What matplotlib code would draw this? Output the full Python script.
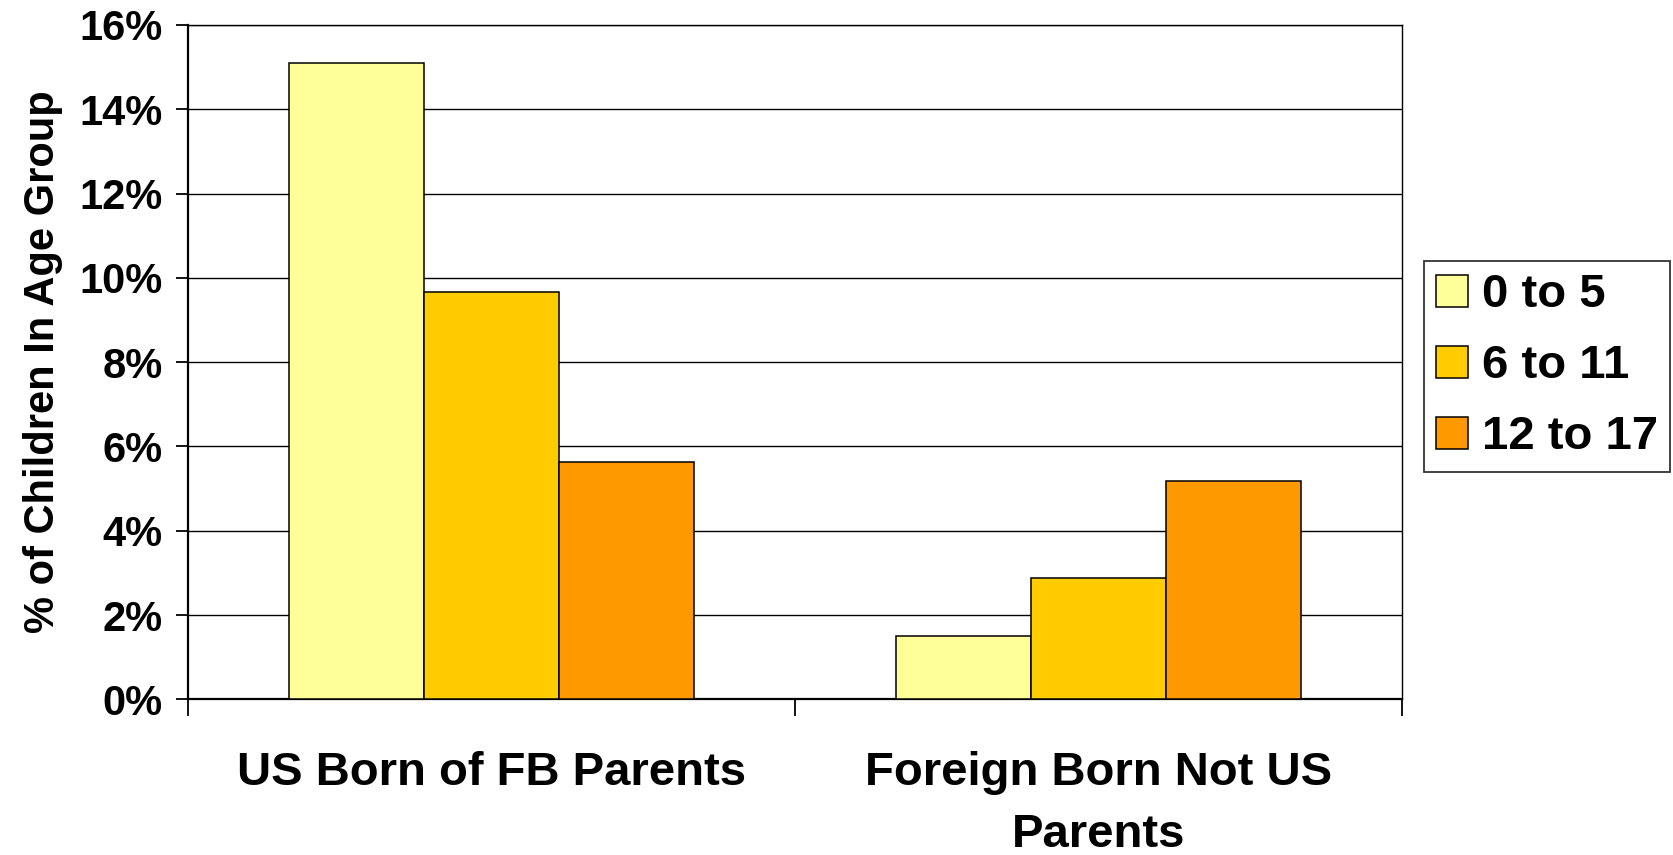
import numpy as np
import matplotlib
matplotlib.use("Agg")
import matplotlib.pyplot as plt
from matplotlib.ticker import FixedLocator, FuncFormatter

plt.rcParams["font.family"] = ["Liberation Sans", "DejaVu Sans"]
plt.rcParams["font.weight"] = "bold"

# data
categories = ["US Born of FB Parents", "Foreign Born Not US\nParents"]
age_groups = ["0 to 5", "6 to 11", "12 to 17"]
age_0_5 = [15.1, 1.51]
age_6_11 = [9.66, 2.89]
age_12_17 = [5.63, 5.19]
colors = ["#FFFF99", "#FFCC00", "#FF9900"]

fig = plt.figure(figsize=(16.74, 8.55), dpi=100)
ax = fig.add_axes([0.1125, 0.1821, 0.7252, 0.7887])

x = np.arange(len(categories))
width = 0.2226
series = [age_0_5, age_6_11, age_12_17]
for i, vals in enumerate(series):
    ax.bar(x + (i - 1) * width, vals, width, color=colors[i], edgecolor="black",
           linewidth=1.1, label=age_groups[i], zorder=3)

ax.set_xlim(-0.5, 1.5)
ax.set_ylim(0, 16)
ax.set_yticks(np.arange(0, 17, 2))
ax.yaxis.set_major_formatter(FuncFormatter(lambda v, p: "%d%%" % v))
ax.yaxis.grid(True, color="black", linewidth=1.0, zorder=0)

# category boundaries as major ticks, names on minor ticks
ax.xaxis.set_major_locator(FixedLocator([-0.5, 0.5, 1.5]))
ax.xaxis.set_major_formatter(FuncFormatter(lambda v, p: ""))
ax.xaxis.set_minor_locator(FixedLocator(x))
ax.set_xticklabels(categories, minor=True, fontsize=34, fontweight="bold",
                   linespacing=1.55)
ax.tick_params(axis="x", which="minor", length=0, pad=37)
ax.tick_params(axis="x", which="major", length=12, width=1.3, direction="out")
ax.tick_params(axis="y", length=8.6, width=1.3, pad=10, labelsize=30)

for s in ["top", "right"]:
    ax.spines[s].set_linewidth(1.0)
for s in ["left", "bottom"]:
    ax.spines[s].set_linewidth(1.6)

ax.set_ylabel("% of Children In Age Group", fontsize=30, fontweight="bold",
              labelpad=12)

leg = ax.legend(loc="center left", bbox_to_anchor=(0.8507, 0.5715),
                bbox_transform=fig.transFigure, fontsize=34, frameon=True,
                fancybox=False, edgecolor="black", handlelength=0.66,
                handleheight=0.66, handletextpad=0.3, labelspacing=0.57,
                borderpad=0.26, borderaxespad=0)
leg.get_frame().set_linewidth(1.3)
for t in leg.get_texts():
    t.set_fontweight("bold")

fig.savefig("out.png", dpi=100, facecolor="white")
